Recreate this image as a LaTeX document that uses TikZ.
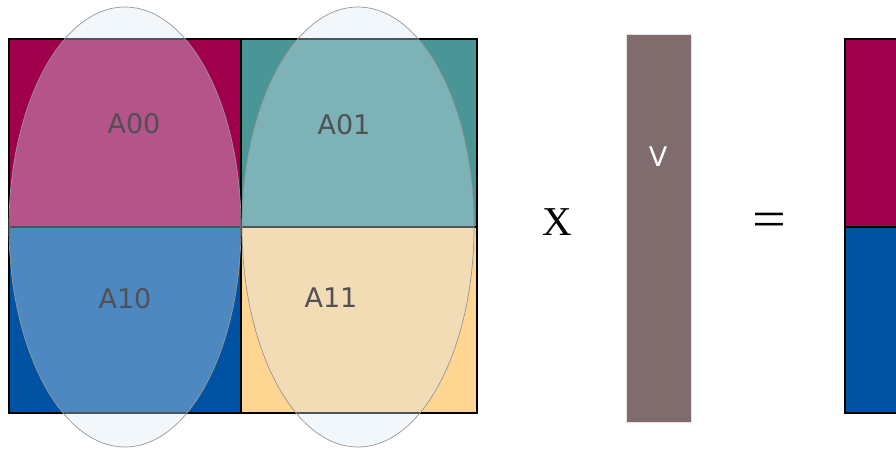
\documentclass[tikz,border=0pt]{standalone}
\usepackage{fontspec}
\usetikzlibrary{shapes.geometric}
\setmainfont{Liberation Serif}
\newfontfamily\labfont{DejaVu Sans}
\definecolor{crim}{RGB}{160,0,75}
\definecolor{tealc}{RGB}{74,149,149}
\definecolor{bluec}{RGB}{0,82,163}
\definecolor{orangec}{RGB}{255,213,146}
\definecolor{vecc}{RGB}{128,108,108}
\definecolor{ellc}{RGB}{218,234,246}
\definecolor{labc}{RGB}{80,80,85}
\tikzset{
  cell/.style={draw=black,line width=2.5pt},
  blob/.style={draw={rgb,255:red,150;green,150;blue,150},line width=0.7pt,fill=ellc,fill opacity=0.36},
  lab/.style={font=\labfont\fontsize{27}{27}\selectfont,text=labc,inner sep=0},
}
\begin{document}
\begin{tikzpicture}[x=1pt,y=-1pt]
\useasboundingbox (0,0) rectangle (896,448);
% matrix A
\fill[crim] (9,39) rectangle (241,227);
\fill[tealc] (241,39) rectangle (477,227);
\fill[bluec] (9,227) rectangle (241,413);
\fill[orangec] (241,227) rectangle (477,413);
\draw[cell] (9,39) rectangle (477,413);
\draw[cell] (241,39) -- (241,413);
\draw[cell] (9,227) -- (477,227);
% ellipses
\node[blob,ellipse,minimum width=232,minimum height=440,inner sep=0] (e1) at (125,227) {};
\node[blob,ellipse,minimum width=232,minimum height=440,inner sep=0] (e2) at (358,227) {};
% labels
\node[lab] (a00) at (134,124) {A00};
\node[lab] (a01) at (344,125) {A01};
\node[lab] (a10) at (125,299) {A10};
\node[lab] (a11) at (331,298) {A11};
% operator X
\node[font=\fontsize{41}{41}\selectfont,inner sep=0] (times) at (557,222) {X};
% vector v
\fill[vecc] (626,34) rectangle (691,422);
\draw[white!80!vecc,line width=0.6pt] (626,34) rectangle (691,422);
\node[font=\labfont\fontsize{27}{27}\selectfont,text=white,inner sep=0] (vlab) at (658,157) {V};
% equals
\node[font=\fontsize{60}{60}\selectfont,inner sep=0] (eq) at (769,224.5) {\scalebox{1}[0.85]{=}};
% result
\fill[crim] (845,39) rectangle (900,227);
\fill[bluec] (845,227) rectangle (900,413);
\draw[cell] (900,39) -- (845,39) -- (845,413) -- (900,413);
\draw[cell] (845,227) -- (900,227);
\end{tikzpicture}
\end{document}
